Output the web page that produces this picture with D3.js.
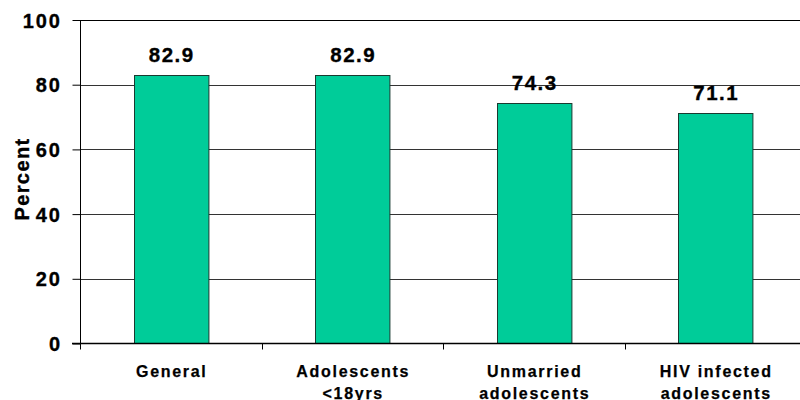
<!DOCTYPE html>
<html><head><meta charset="utf-8">
<script src="https://cdn.jsdelivr.net/npm/d3@7"></script>
<style>body{margin:0;background:#fff}svg{display:block}text{font-family:"Liberation Sans",Arial,sans-serif;font-weight:bold;fill:#000;stroke:#000;stroke-width:0.35px}</style>
</head><body><svg id="c" width="800" height="400"></svg>
<script>
const categories = [["General"],["Adolescents","<18yrs"],["Unmarried","adolescents"],["HIV infected","adolescents"]];
const values = [82.9, 82.9, 74.3, 71.1];
const yTicks = [0,20,40,60,80,100];
const yTitle = "Percent";

const svg = d3.select("#c");
const L=80, R=806, T=20, B=343.5;
const x = d3.scaleBand().domain(d3.range(categories.length)).range([L,R]).paddingInner(0.59).paddingOuter(0.295);
const y = d3.scaleLinear().domain([0,100]).range([B,T]);

// gridlines
svg.append("g").selectAll("line").data(yTicks.filter(d=>d>0)).join("line")
  .attr("x1",L).attr("x2",800).attr("y1",d=>Math.round(y(d))+0.5).attr("y2",d=>Math.round(y(d))+0.5)
  .attr("stroke",d=>d===100?"#000":"#333").attr("stroke-width",1);

// bars
svg.append("g").selectAll("rect").data(values).join("rect")
  .attr("x",(d,i)=>Math.round(x(i))+0.5).attr("width",x.bandwidth())
  .attr("y",d=>Math.round(y(d))+0.5).attr("height",d=>B-Math.round(y(d))-0.5)
  .attr("fill","#00CC99").attr("stroke","#1a3a30").attr("stroke-width",1);

// value labels
svg.append("g").selectAll("text").data(values).join("text")
  .attr("x",(d,i)=>x(i)+x.bandwidth()/2+1).attr("y",d=>y(d)-13)
  .attr("text-anchor","middle").style("font-size","20.5px").style("letter-spacing","1.5px").text(d=>d.toFixed(1));

// y axis
const ya = d3.axisLeft(y).tickValues(yTicks).tickSize(8).tickFormat(()=>"");
const gy = svg.append("g").attr("transform",`translate(${L+0.5},0)`).call(ya);
gy.select(".domain").attr("stroke","#000").attr("d",`M0,${T}V${B}`);
gy.selectAll(".tick line").attr("stroke","#000");
svg.append("g").selectAll("text").data(yTicks).join("text")
  .attr("x",62).attr("y",d=>y(d)+7.5).attr("text-anchor","end")
  .style("font-size","20px").style("letter-spacing","2px").text(d=>d);

// x axis
svg.append("line").attr("x1",L-8).attr("x2",800).attr("y1",B).attr("y2",B).attr("stroke","#000").attr("stroke-width",1.5);
const step = (R-L)/categories.length;
svg.append("g").selectAll("line").data(d3.range(0,categories.length+1)).join("line")
  .attr("x1",d=>Math.round(L+d*step)+0.5).attr("x2",d=>Math.round(L+d*step)+0.5)
  .attr("y1",B).attr("y2",B+6).attr("stroke","#000");

const cl = svg.append("g").selectAll("text").data(categories).join("text")
  .attr("text-anchor","middle").style("font-size","16px").style("letter-spacing","1.7px").style("stroke-width","0.25px")
  .attr("transform",(d,i)=>`translate(${x(i)+x.bandwidth()/2+1},${376.5})`);
cl.selectAll("tspan").data(d=>d).join("tspan").attr("x",0).attr("dy",(d,i)=>i?22:0).text(d=>d);

svg.append("text").attr("transform","translate(29,179) rotate(-90)").attr("text-anchor","middle")
  .style("font-size","20px").style("letter-spacing","1.4px").text(yTitle);
</script></body></html>
